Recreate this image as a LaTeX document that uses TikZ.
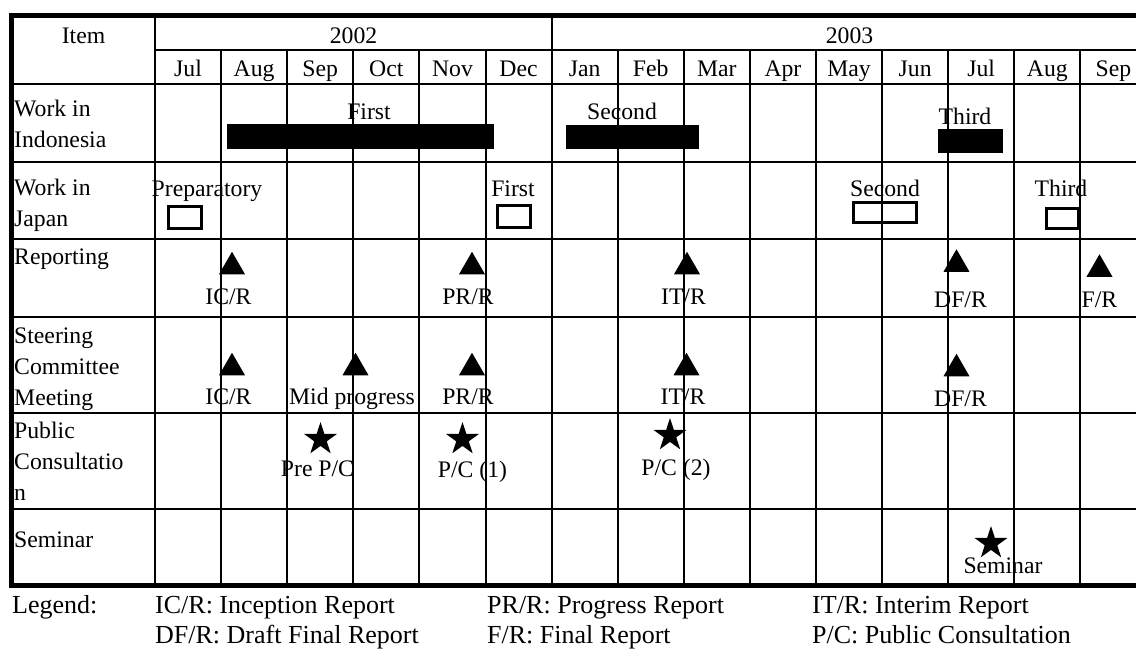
\documentclass[tikz,border=0pt]{standalone}
\usepackage{fontspec}
\setmainfont{Liberation Serif}
\usetikzlibrary{shapes.geometric}

\begin{document}
\begin{tikzpicture}[x=1pt, y=-1pt,
  txt/.style={inner sep=0pt, font=\fontsize{23.7}{31}\selectfont},
  rowhead/.style={txt, align=left, anchor=north west},
  gridline/.style={line width=2pt},
  frame/.style={line width=4.5pt},
  bar/.style={fill=black, inner sep=0pt},
  plan/.style={draw, line width=3pt, inner sep=0pt},
  tri/.style={fill, regular polygon, regular polygon sides=3, inner sep=0pt, minimum size=30pt},
  star5/.style={fill, star, star points=5, star point ratio=2.618, inner sep=0pt, minimum size=34.6pt},
  lg/.style={inner sep=0pt, anchor=base west, font=\fontsize{26}{31}\selectfont}
]
\useasboundingbox (0,0) rectangle (1136,649);
\clip (0,0) rectangle (1136,649);
% table rules
\draw[frame] (1150,15.3) -- (11.7,15.3) -- (11.7,585.5) -- (1150,585.5);
\draw[gridline] (155,50) -- (1150,50);
\foreach \y in {83.5,161.5,238.5,317,413,508.5}
  \draw[gridline] (11.7,\y) -- (1150,\y);
\draw[gridline] (155,15.3) -- (155,585.5);
\draw[gridline] (552,15.3) -- (552,50);
\foreach \i in {1,...,14}
  \draw[gridline] ({155+66.1*\i},50) -- ({155+66.1*\i},585.5);
% header
\node[txt, anchor=base] (item) at (83.5,43) {Item};
\node[txt, anchor=base] (y2002) at (353.5,43) {2002};
\node[txt, anchor=base] (y2003) at (849.5,43) {2003};
\foreach \m [count=\i from 0] in {Jul,Aug,Sep,Oct,Nov,Dec,Jan,Feb,Mar,Apr,May,Jun,Jul,Aug,Sep}
  \node[txt, anchor=base] (m\i) at ({155+66.1*(\i+0.5)},76) {\m};
% row heads
\node[rowhead] (hIndo)  at (14,99.8)  {Work in\\Indonesia};
\node[rowhead] (hJapan) at (14,178.8) {Work in\\Japan};
\node[rowhead] (hRep)   at (14,248.8) {Reporting};
\node[rowhead] (hSC)    at (14,327.8) {Steering\\Committee\\Meeting};
\node[rowhead] (hPC)    at (14,421.8) {Public\\Consultatio\\n};
\node[rowhead] (hSem)   at (14,531.8) {Seminar};
% work in Indonesia
\node[bar, minimum width=267pt, minimum height=25pt] (b1) at (360.5,136.5) {};
\node[txt, anchor=base] (b1l) at (369,119) {First};
\node[bar, minimum width=133pt, minimum height=24pt] (b2) at (632.5,137) {};
\node[txt, anchor=base] (b2l) at (622,119) {Second};
\node[bar, minimum width=65pt, minimum height=24pt] (b3) at (970.5,141) {};
\node[txt, anchor=base] (b3l) at (965,124) {Third};
% work in Japan
\node[plan, minimum width=33pt, minimum height=22pt] (j0) at (185,217.5) {};
\node[txt, anchor=base] (j0l) at (207,196.5) {Preparatory};
\node[plan, minimum width=33pt, minimum height=22pt] (j1) at (514,216.5) {};
\node[txt, anchor=base] (j1l) at (513,196.5) {First};
\node[plan, minimum width=63pt, minimum height=20pt] (j2) at (885,212.5) {};
\node[txt, anchor=base] (j2l) at (885,196.5) {Second};
\node[plan, minimum width=32pt, minimum height=20pt] (j3) at (1062.5,218.5) {};
\node[txt, anchor=base] (j3l) at (1061,196.5) {Third};
% reporting
\node[tri] (r1) at (232,266.75) {};   \node[txt, anchor=base] (r1l) at (228.5,304) {IC/R};
\node[tri] (r2) at (472,266.75) {};   \node[txt, anchor=base] (r2l) at (468,304) {PR/R};
\node[tri] (r3) at (687,266.75) {};   \node[txt, anchor=base] (r3l) at (683.5,304) {IT/R};
\node[tri] (r4) at (956.5,264.25) {}; \node[txt, anchor=base] (r4l) at (960.5,307) {DF/R};
\node[tri] (r5) at (1099.5,269.25) {};\node[txt, anchor=base] (r5l) at (1099.5,307) {F/R};
% steering committee meeting
\node[tri] (s1) at (232,367.75) {};   \node[txt, anchor=base] (s1l) at (228.5,404) {IC/R};
\node[tri] (s2) at (355.5,367.75) {}; \node[txt, anchor=base] (s2l) at (352,404) {Mid progress};
\node[tri] (s3) at (472,367.75) {};   \node[txt, anchor=base] (s3l) at (468,404) {PR/R};
\node[tri] (s4) at (686.5,367.75) {}; \node[txt, anchor=base] (s4l) at (683,404) {IT/R};
\node[tri] (s5) at (956.5,368.75) {}; \node[txt, anchor=base] (s5l) at (960.5,406) {DF/R};
% public consultation
\node[star5] (p1) at (320.5,439.3) {}; \node[txt, anchor=base] (p1l) at (317.5,476) {Pre P/C};
\node[star5] (p2) at (462.5,439.3) {}; \node[txt, anchor=base] (p2l) at (472.5,477) {P/C (1)};
\node[star5] (p3) at (670,435.3) {};   \node[txt, anchor=base] (p3l) at (676,475) {P/C (2)};
% seminar
\node[star5] (sem) at (991,543.3) {};  \node[txt, anchor=base] (seml) at (1003,573) {Seminar};
% legend
\node[lg] (lgd) at (12,613)  {Legend:};
\node[lg] (l1)  at (155,613) {IC/R: Inception Report};
\node[lg] (l2)  at (487,613) {PR/R: Progress Report};
\node[lg] (l3)  at (812,613) {IT/R: Interim Report};
\node[lg] (l4)  at (155,643) {DF/R: Draft Final Report};
\node[lg] (l5)  at (487,643) {F/R: Final Report};
\node[lg] (l6)  at (812,643) {P/C: Public Consultation};
\end{tikzpicture}
\end{document}
